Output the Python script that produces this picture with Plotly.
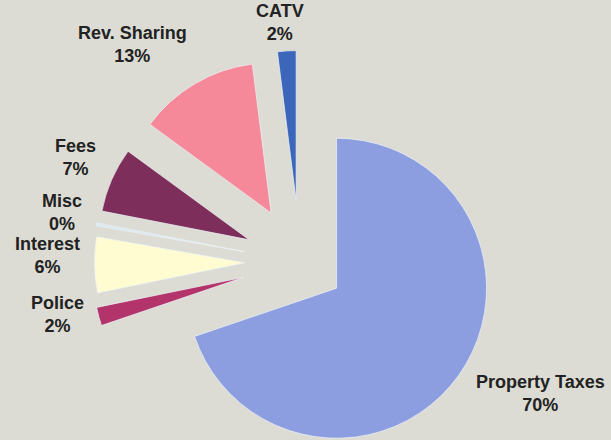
import math
import plotly.graph_objects as go

# Revenue sources (share of total, percent)
labels = ["Property Taxes", "Police", "Interest", "Misc", "Fees", "Rev. Sharing", "CATV"]
values = [70, 2, 6, 0.3, 7, 13, 2]
colors = ["#8c9ee0", "#b2346a", "#fffcd2", "#dbe9f2", "#7d2e5a", "#f5899a", "#3b66b9"]
pulls = [0.30, 0.39, 0.37, 0.38, 0.37, 0.38, 0.41]

# Fine placement of each label (pixels, right / down) after the radial rule
label_nudge = [(2, -15), (3, -6), (3, -10), (3, -9), (1, 8), (2, -2), (-6, 11)]

W, H = 611, 480
cx, cy = 300, 262          # pie centre in pixels
max_pull = max(pulls)
radius = 150               # pie radius in pixels
half = radius * (1 + max_pull)   # half-size of the pie's domain box
label_gap = 16

fig = go.Figure(
    go.Pie(
        labels=labels,
        values=values,
        sort=False,
        direction="clockwise",
        rotation=0,
        pull=pulls,
        marker=dict(colors=colors, line=dict(color="rgba(236,242,246,0.7)", width=1)),
        textinfo="none",
        hoverinfo="label+percent",
        domain=dict(
            x=[(cx - half) / W, (cx + half) / W],
            y=[(H - (cy + half)) / H, (H - (cy - half)) / H],
        ),
    )
)

# Outside labels: placed along each slice's mid-angle, just beyond its pulled rim
total = sum(values)
start = 0.0
for lab, val, p, (nx, ny) in zip(labels, values, pulls, label_nudge):
    sweep = 360.0 * val / total
    mid = math.radians(start + sweep / 2)
    start += sweep
    dx, dy = math.sin(mid), -math.cos(mid)
    dist = radius * (1 + p) + label_gap
    px, py = cx + dist * dx + nx, cy + dist * dy + ny
    xanchor = "left" if dx > 0.3 else ("right" if dx < -0.3 else "center")
    yanchor = "top" if dy > 0.3 else ("bottom" if dy < -0.3 else "middle")
    fig.add_annotation(
        x=px / W, y=1 - py / H, xref="paper", yref="paper",
        text=f"{lab}<br>{round(100 * val / total)}%",
        showarrow=False, align="center",
        xanchor=xanchor, yanchor=yanchor,
        font=dict(family="Liberation Sans, Arial, sans-serif", size=18,
                  color="#222222", weight="bold"),
    )

fig.update_layout(
    width=W,
    height=H,
    margin=dict(l=0, r=0, t=0, b=0),
    paper_bgcolor="#dcdcd4",
    plot_bgcolor="#dcdcd4",
    showlegend=False,
)

fig.write_html(
    "out.html",
    post_script="document.documentElement.style.overflow='hidden';document.body.style.overflow='hidden';",
)
